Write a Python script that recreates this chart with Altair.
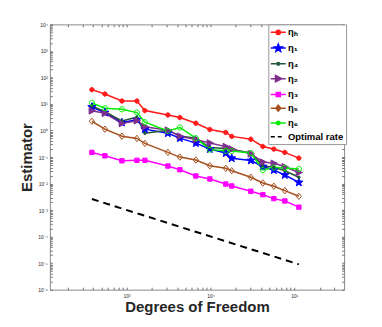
import math
import altair as alt
import pandas as pd

# ---------------- data ----------------
dof = [386, 552, 880, 1327, 1653, 3105, 4312, 6683, 9817, 15200, 17900,
       30200, 42000, 56800, 76800, 112800]

eta_h = [34.6, 23.7, 12.9, 12.9, 5.63, 3.85, 3.08, 1.88, 1.09, 0.84, 0.60,
         0.47, 0.25, 0.199, 0.149, 0.091]
eta_1 = [7.69, 4.74, 2.0, 2.54, 1.12, 0.79, 0.514, 0.334, 0.20, 0.14, 0.09,
         0.074, 0.044, 0.032, 0.021, 0.011]
eta_4 = [8.38, 5.17, 2.29, 3.16, 0.79, 1.03, 0.627, 0.514, 0.230, 0.21, 0.19,
         0.141, 0.0469, 0.0408, 0.0304, 0.0172]
eta_2 = [5.5, 4.46, 1.83, 2.33, 1.39, 1.03, 0.61, 0.452, 0.34, 0.247, 0.199,
         0.132, 0.0646, 0.0577, 0.0427, 0.026]
eta_3 = [0.149, 0.111, 0.072, 0.075, 0.075, 0.0457, 0.0332, 0.0193, 0.0149,
         0.0096, 0.0081, 0.0051, 0.0038, 0.0027, 0.0022, 0.00129]
eta_5 = [2.23, 1.12, 0.61, 0.50, 0.325, 0.149, 0.0995, 0.077, 0.0469, 0.0375,
         0.0304, 0.0172, 0.0105, 0.0079, 0.0054, 0.0033]
eta_6 = [11.0, 6.87, 6.3, 4.74, 2.05, 0.966, 1.30, 0.514, 0.19, 0.171, 0.167,
         0.141, 0.0324, 0.0402, 0.0385, 0.0353]

opt_dof = [386, 112800]
opt_val = [2.6e-3, 9.0e-6]

series_labels = ["ηₕ", "η₁", "η₄", "η₂", "η₃", "η₅", "η₆"]
opt_label = "Optimal rate"
series_values = [eta_h, eta_1, eta_4, eta_2, eta_3, eta_5, eta_6]

# ---------------- styles ----------------
colors = ["#ff1a1a", "#0000ff", "#22573a", "#7e2f8e", "#ff00ff", "#a5501e", "#00ee00"]
point_fills = ["#ff1a1a", "#0000ff", "#22573a", "#7e2f8e", "#ff00ff", "transparent", "transparent"]


def star(r_out, r_in):
    pts = []
    for i in range(10):
        a = math.radians(-90 + 36 * i)
        r = r_out if i % 2 == 0 else r_in
        pts.append((r * math.cos(a), r * math.sin(a)))
    return "M" + "L".join(f"{x:.3f},{y:.3f}" for x, y in pts) + "Z"


def circ(r):
    return f"M{-r},0A{r},{r} 0 1,0 {r},0A{r},{r} 0 1,0 {-r},0Z"


def square(h):
    return f"M{-h},{-h}H{h}V{h}H{-h}Z"


def diamond(w, h):
    return f"M0,{-h}L{w},0L0,{h}L{-w},0Z"


def tri_right(w0, w1, h):
    return f"M{-w0},{-h}L{w1},0L{-w0},{h}Z"


# marker outlines in symbol units (1 unit = 5 px at size 100)
plot_shapes = [circ(0.44), star(0.86, 0.36), circ(0.27), tri_right(0.55, 0.72, 0.66),
               square(0.44), diamond(0.52, 0.64), circ(0.52)]

seg = "M-1.5,0H1.5"
legend_paths = [
    seg + circ(0.42),
    seg + star(0.8, 0.34),
    seg + circ(0.28),
    seg + tri_right(0.55, 0.7, 0.62),
    seg + square(0.4),
    seg + diamond(0.5, 0.6),
    seg + circ(0.34),
    "M-1.5,0H-0.7M-0.1,0H0.7",
]
all_labels = series_labels + [opt_label]
legend_fills = colors + ["transparent"]
legend_strokes = colors + ["#000000"]

rows = []
for lab, vals in zip(series_labels, series_values):
    for d, v in zip(dof, vals):
        rows.append({"dof": d, "value": v, "series": lab})
df = pd.DataFrame(rows)
df_opt = pd.DataFrame({"dof": opt_dof, "value": opt_val})

# ---------------- ticks ----------------
SUP = str.maketrans("0123456789-", "⁰¹²³⁴⁵⁶⁷⁸⁹⁻")
x_dom = [122, 390000]
y_dom = [1e-6, 1e4]
x_ticks = [k * 10 ** e for e in range(2, 6) for k in range(1, 10)
           if x_dom[0] <= k * 10 ** e <= x_dom[1]]
y_ticks = [float(f"{k}e{e}") for e in range(-6, 4) for k in range(1, 10)] + [1e4]


def label_expr(decades):
    expr = "''"
    for e in reversed(decades):
        v = float(f"1e{e}")
        expr = f"datum.value == {v!r} ? '10{str(e).translate(SUP)}' : " + expr
    return expr


x_label_expr = label_expr([3, 4, 5])
y_label_expr = label_expr(list(range(-6, 5)))

TXT = "#262626"
TICK = "#555555"
FONT = "Liberation Sans"

common_axis = dict(grid=False, domain=False, tickSize=2.5, offset=-2.5,
                   tickColor=TICK, tickWidth=0.8, labelColor=TXT,
                   labelFont=FONT, labelFontSize=5, titleFont=FONT,
                   titleFontSize=15, titleFontWeight="bold", titleColor=TXT)

xs = alt.Scale(type="log", domain=x_dom, nice=False)
ys = alt.Scale(type="log", domain=y_dom, nice=False)

x_bottom = alt.Axis(orient="bottom", values=x_ticks, labelExpr=x_label_expr,
                    title="Degrees of Freedom", labelPadding=3.5, titlePadding=1,
                    labelFlush=False, labelOverlap=False, **common_axis)
y_left = alt.Axis(orient="left", values=y_ticks, labelExpr=y_label_expr,
                  title="Estimator", labelPadding=2.5, titlePadding=3,
                  labelOverlap=False, **common_axis)
x_top = alt.Axis(orient="top", values=x_ticks, labels=False, title=None, **common_axis)
y_right = alt.Axis(orient="right", values=y_ticks, labels=False, title=None, **common_axis)

lines = alt.Chart(df).mark_line(strokeWidth=1.5, clip=True).encode(
    x=alt.X("dof:Q", scale=xs, axis=x_bottom),
    y=alt.Y("value:Q", scale=ys, axis=y_left),
    color=alt.Color("series:N", scale=alt.Scale(domain=series_labels, range=colors), legend=None),
)

opt = alt.Chart(df_opt).mark_line(strokeWidth=2, strokeDash=[7, 5], color="black", clip=True).encode(
    x=alt.X("dof:Q", scale=xs, axis=x_top),
    y=alt.Y("value:Q", scale=ys, axis=y_right),
)

points = alt.Chart(df).mark_point(filled=True, size=100, strokeWidth=1.0, opacity=1, clip=True).encode(
    x=alt.X("dof:Q", scale=xs, axis=None),
    y=alt.Y("value:Q", scale=ys, axis=None),
    shape=alt.Shape("series:N", scale=alt.Scale(domain=series_labels, range=plot_shapes), legend=None),
    fill=alt.Fill("series:N", scale=alt.Scale(domain=series_labels, range=point_fills), legend=None),
    stroke=alt.Stroke("series:N", scale=alt.Scale(domain=series_labels, range=colors), legend=None),
)

legend_layer = alt.Chart(df).transform_filter("false").mark_point(filled=True, opacity=1).encode(
    x=alt.X("dof:Q", scale=xs, axis=None),
    y=alt.Y("value:Q", scale=ys, axis=None),
    shape=alt.Shape("series:N", scale=alt.Scale(domain=all_labels, range=legend_paths),
                    legend=alt.Legend(title=None)),
    fill=alt.Fill("series:N", scale=alt.Scale(domain=all_labels, range=legend_fills),
                  legend=alt.Legend(title=None)),
    stroke=alt.Stroke("series:N", scale=alt.Scale(domain=all_labels, range=legend_strokes),
                      legend=alt.Legend(title=None)),
)

chart = alt.layer(lines, opt, points, legend_layer).resolve_scale(
    shape="independent", fill="independent", stroke="independent"
).resolve_axis(x="independent", y="independent").properties(
    width=295, height=266,
    autosize=alt.AutoSizeParams(type="none"),
    padding={"left": 42, "top": 16, "right": 30, "bottom": 28},
    background="white",
).configure_view(stroke="#8c8c8c", strokeWidth=1).configure_legend(
    orient="none", legendX=219, legendY=0,
    fillColor="white", strokeColor="#9a9a9a", padding=2,
    symbolSize=100, symbolStrokeWidth=1.5, symbolOffset=2,
    rowPadding=2.8, labelOffset=3.7,
    labelFont=FONT, labelFontSize=9.5, labelFontWeight="bold", labelColor="#000000",
)

chart.save("out.html", embed_options={"renderer": "svg", "actions": False})
